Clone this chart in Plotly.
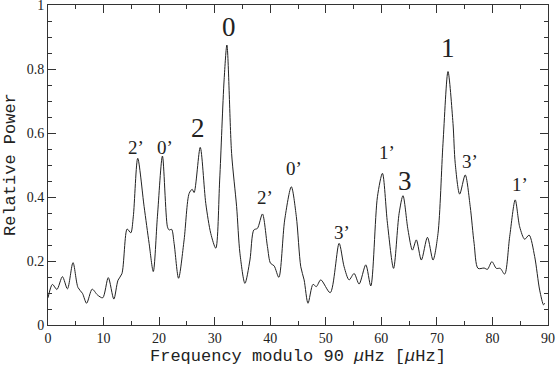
import plotly.graph_objects as go

# Frequency modulo 90 uHz vs relative power
freq = [
    0.0, 0.8, 1.6, 2.6, 3.5, 4.5, 5.4, 6.2, 6.95, 7.95, 8.9, 9.85, 10.85, 11.85,
    12.6, 13.3, 14.25, 14.9, 15.35, 16.15, 17.3, 18.2, 18.95, 19.7, 20.6, 21.5,
    21.8, 22.25, 22.7, 23.5, 24.5, 25.4, 25.95, 26.3, 27.4, 28.4, 29.3, 30.2,
    30.9, 31.7, 32.2, 33.05, 33.95, 34.55, 35.45, 36.35, 37.05, 37.7, 38.6, 39.5,
    40.05, 40.7, 41.55, 42.6, 43.8, 44.7, 45.5, 46.1, 46.8, 47.7, 48.3, 49.1,
    50.8, 52.4, 53.3, 54.2, 55.1, 56.0, 57.2, 58.1, 59.3, 60.2, 61.1, 62.2,
    63.2, 63.9, 64.8, 65.6, 66.3, 67.2, 68.3, 69.3, 70.2, 71.1, 72.0, 72.9,
    73.3, 74.1, 75.1, 76.0, 76.7, 77.4, 78.5, 79.1, 79.9, 80.7, 81.4, 82.2,
    83.1, 84.1, 84.9, 85.8, 86.6, 87.6, 88.5, 89.2, 89.4,
]
power = [
    0.085, 0.127, 0.111, 0.151, 0.113, 0.195, 0.117, 0.099, 0.068, 0.112, 0.094,
    0.085, 0.148, 0.081, 0.140, 0.160, 0.300, 0.288, 0.338, 0.521, 0.370, 0.255,
    0.167, 0.340, 0.528, 0.307, 0.297, 0.299, 0.255, 0.146, 0.266, 0.411, 0.424,
    0.414, 0.555, 0.380, 0.286, 0.240, 0.453, 0.766, 0.875, 0.536, 0.370, 0.224,
    0.130, 0.203, 0.297, 0.302, 0.347, 0.245, 0.193, 0.185, 0.149, 0.328, 0.432,
    0.339, 0.182, 0.141, 0.068, 0.127, 0.120, 0.141, 0.101, 0.255, 0.182, 0.141,
    0.161, 0.128, 0.188, 0.122, 0.401, 0.474, 0.318, 0.177, 0.349, 0.404, 0.297,
    0.234, 0.266, 0.203, 0.274, 0.203, 0.286, 0.568, 0.792, 0.630, 0.505, 0.409,
    0.469, 0.370, 0.255, 0.177, 0.178, 0.174, 0.198, 0.177, 0.177, 0.159, 0.276,
    0.391, 0.307, 0.268, 0.281, 0.214, 0.109, 0.063, 0.068,
]

x_ticks = [0, 10, 20, 30, 40, 50, 60, 70, 80, 90]
y_ticks = [0, 0.2, 0.4, 0.6, 0.8, 1]
y_tick_text = ["0", "0.2", "0.4", "0.6", "0.8", "1"]

# mode labels over the peaks
mode_text = ["2’", "0’", "2", "0", "2’", "0’", "3’", "1’", "3", "1", "3’", "1’"]
mode_x = [15.9, 21.1, 27.0, 32.6, 39.0, 44.3, 53.0, 61.0, 64.3, 72.0, 76.0, 85.0]
mode_y = [0.556, 0.556, 0.617, 0.93, 0.40, 0.49, 0.29, 0.54, 0.45, 0.865, 0.51, 0.44]
big_modes = {"0", "1", "2", "3"}

FONT = "Liberation Serif, serif"
TITLE_FONT = dict(family="Liberation Mono, monospace", size=17, color="#222")

fig = go.Figure()
fig.add_trace(go.Scatter(
    x=freq, y=power, mode="lines",
    line=dict(color="#222", width=1, shape="spline", smoothing=0.8),
    showlegend=False, hoverinfo="skip",
))

for t, x, y in zip(mode_text, mode_x, mode_y):
    fig.add_annotation(
        x=x, y=y, text=t, showarrow=False,
        font=dict(family=FONT, size=27 if t in big_modes else 19, color="#222"),
    )

# axis titles placed by hand
fig.add_annotation(
    x=0.5, y=-0.097, xref="paper", yref="paper", xanchor="center", yanchor="middle",
    text="Frequency modulo 90 <i>μ</i>Hz [<i>μ</i>Hz]", showarrow=False, font=TITLE_FONT,
)
fig.add_annotation(
    x=-0.076, y=0.5, xref="paper", yref="paper", xanchor="center", yanchor="middle",
    textangle=-90, text="Relative Power", showarrow=False, font=TITLE_FONT,
)

axis_common = dict(
    showline=True, linecolor="#333", linewidth=1, mirror="allticks",
    ticks="inside", ticklen=8, tickcolor="#333", tickwidth=1,
    showgrid=False, zeroline=False, automargin=False, ticklabeloverflow="allow",
    tickfont=dict(family=FONT, size=14, color="#222"),
)

fig.update_xaxes(
    range=[0, 90], tickvals=x_ticks,
    minor=dict(ticks="inside", ticklen=4, dtick=5, tickcolor="#333"),
    **axis_common,
)
fig.update_yaxes(
    range=[0, 1], tickvals=y_ticks, ticktext=y_tick_text,
    minor=dict(ticks="inside", ticklen=4, dtick=0.05, tickcolor="#333"),
    **axis_common,
)

fig.update_layout(
    width=560, height=368,
    margin=dict(l=48, r=12, t=5, b=43),
    plot_bgcolor="white", paper_bgcolor="white",
)

# drop the default page margin so the figure sits at the window corner
fig.write_html(
    "out.html",
    config={"displayModeBar": False},
    post_script="document.body.style.margin='0';",
)
